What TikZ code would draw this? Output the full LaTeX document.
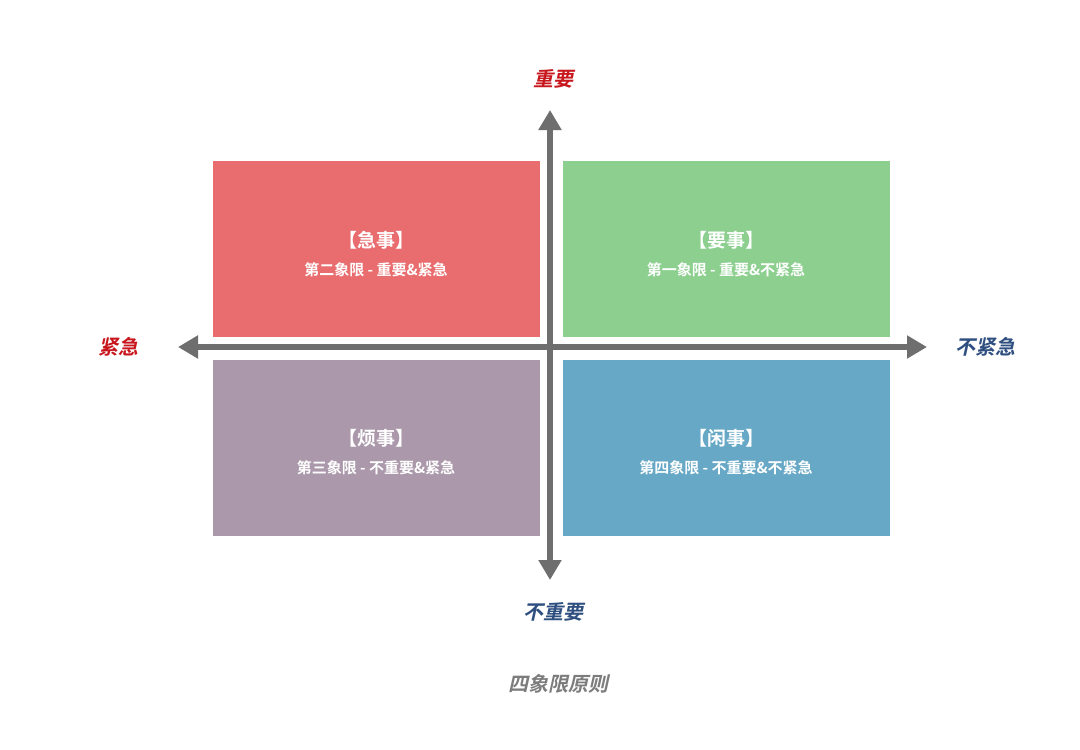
\documentclass[tikz,border=0pt]{standalone}
\usepackage{fontspec}
\newfontfamily\cjk[BoldFont={Noto Sans CJK SC Bold}]{Noto Sans CJK SC}
\newfontfamily\cjkit[FakeSlant=0.22,BoldFont={Noto Sans CJK SC Bold},BoldFeatures={FakeSlant=0.22}]{Noto Sans CJK SC}
\usetikzlibrary{arrows.meta}
\definecolor{qred}{HTML}{E96D6E}
\definecolor{qgreen}{HTML}{8CCF8F}
\definecolor{qpurple}{HTML}{AB99AB}
\definecolor{qblue}{HTML}{67A8C6}
\definecolor{lred}{HTML}{C8161D}
\definecolor{lblue}{HTML}{2E4F7F}
\definecolor{axis}{HTML}{6E6E6E}
\tikzset{
 quad/.style={minimum width=327pt,minimum height=176pt,inner sep=0pt,anchor=north west,draw=none},
 qtitle/.style={text=white,font=\cjk\bfseries\fontsize{19pt}{22pt}\selectfont},
 qsub/.style={text=white,font=\cjk\bfseries\fontsize{15pt}{18pt}\selectfont},
 axlab/.style={font=\cjkit\bfseries\fontsize{20pt}{24pt}\selectfont},
 axarrow/.style={draw=axis,line width=6pt,-{Triangle[length=20pt,width=22pt]}}
}
\begin{document}
\begin{tikzpicture}[x=1pt,y=-1pt]
\useasboundingbox[fill=white] (0,0) rectangle (1080,750);
\node[quad,fill=qred] (q2) at (213,161) {};
\node[quad,fill=qgreen] (q1) at (563,161) {};
\node[quad,fill=qpurple] (q3) at (213,360) {};
\node[quad,fill=qblue] (q4) at (563,360) {};
\node[qtitle] (t2) at (376,240) {【急事】};
\node[qsub] (s2) at (376,270) {第二象限 - 重要\&紧急};
\node[qtitle] (t1) at (726,240) {【要事】};
\node[qsub] (s1) at (726,270) {第一象限 - 重要\&不紧急};
\node[qtitle] (t3) at (376,438) {【烦事】};
\node[qsub] (s3) at (376,468) {第三象限 - 不重要\&紧急};
\node[qtitle] (t4) at (726,438) {【闲事】};
\node[qsub] (s4) at (726,468) {第四象限 - 不重要\&不紧急};
\coordinate (c) at (550,347);
\coordinate (top) at (550,110);
\coordinate (bot) at (550,580);
\coordinate (lft) at (178,347);
\coordinate (rgt) at (927,347);
\draw[axarrow] (c) -- (top);
\draw[axarrow] (c) -- (bot);
\draw[axarrow] (c) -- (lft);
\draw[axarrow] (c) -- (rgt);
\node[axlab,text=lred] (lt) at (553,79) {重要};
\node[axlab,text=lblue] (lb) at (553,612) {不重要};
\node[axlab,text=lred] (ll) at (118,347) {紧急};
\node[axlab,text=lblue] (lr) at (985,347) {不紧急};
\node[axlab,text=axis!90] (cap) at (558,684) {四象限原则};
\end{tikzpicture}
\end{document}
